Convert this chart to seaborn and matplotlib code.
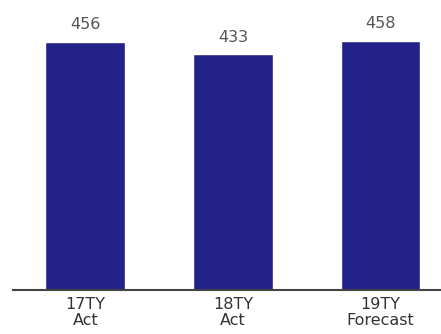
import matplotlib
matplotlib.use("Agg")
import matplotlib.pyplot as plt
import seaborn as sns
import pandas as pd

categories = ["17TY\nAct", "18TY\nAct", "19TY\nForecast"]
values = [456, 433, 458]

df = pd.DataFrame({"period": categories, "value": values})

sns.set_style("white")
plt.rcParams['font.family'] = ['DejaVu Sans']

fig = plt.figure(figsize=(4.41, 3.34), dpi=100)
ax = fig.add_axes([13 / 441, 44 / 334, 428 / 441, 290 / 334])

sns.barplot(data=df, x="period", y="value", color="#222288", width=0.54,
            saturation=1, ax=ax)

for i, v in enumerate(values):
    ax.annotate(str(v), (i, v), xytext=(0, 7), textcoords="offset points",
                ha="center", va="bottom", fontsize=11.5, color="#555555")

ax.set_xlim(-0.49, 2.41)
ax.set_ylim(0, 533)
ax.set_xlabel("")
ax.set_ylabel("")
ax.set_yticks([])
for s in ["top", "right", "left"]:
    ax.spines[s].set_visible(False)
ax.spines["bottom"].set_color("#444444")
ax.spines["bottom"].set_linewidth(1.5)
ax.tick_params(axis="x", length=0, labelsize=11.5, labelcolor="#333333", pad=5)
for lbl in ax.get_xticklabels():
    lbl.set_linespacing(1.05)

fig.savefig("out.png", dpi=100)
